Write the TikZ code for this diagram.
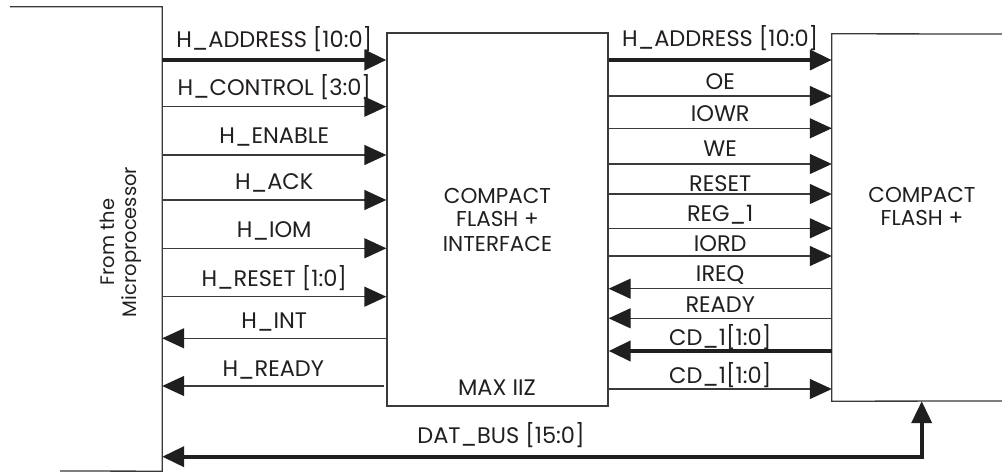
\documentclass[tikz,border=0pt]{standalone}
\usepackage{fontspec}
\setmainfont{Poppins}
\usetikzlibrary{arrows.meta,positioning}
\definecolor{ln}{HTML}{3A3A3A}
\definecolor{tx}{HTML}{231F20}
\tikzset{
  lbl/.style={text=tx,font=\fontsize{22.5}{26}\selectfont,inner sep=0pt,anchor=base},
  sig/.style={draw=ln,line width=1.3pt,-{Triangle[length=22pt 0,width=20pt 0,fill=black!88,color=black!88]}},
  bus/.style={sig,line width=4pt,draw=black!88},
  sigr/.style={draw=ln,line width=1.3pt,{Triangle[length=22pt 0,width=20pt 0,fill=black!88,color=black!88]}-},
  busr/.style={sigr,line width=4pt,draw=black!88},
  boxline/.style={draw=ln,line width=1.3pt},
  blk/.style={boxline,inner sep=0pt},
  blktext/.style={text=tx,font=\fontsize{21.5}{24}\selectfont,inner sep=0pt,anchor=base},
}
\begin{document}
\begin{tikzpicture}[x=1pt,y=-1pt]
\useasboundingbox[fill=white] (0,0) rectangle (1002,473);
% microprocessor (open box)
\node[inner sep=0pt,minimum width=152pt,minimum height=464pt] (mp) at (86,239) {};
\draw[boxline] (mp.north west) -- (mp.north east) -- (mp.south east) -- (60,471);
\node[rotate=90,text=tx,font=\fontsize{19.5}{22}\selectfont,align=center] (mptext) at (121,242) {From the\\Microprocessor};
% CPLD
\node[blk,minimum width=221pt,minimum height=373pt] (cpld) at (497.5,219.5) {};
\node[blktext] (cpld1) at (497.5,203.3) {COMPACT};
\node[blktext] (cpld2) at (497.5,227) {FLASH +};
\node[blktext] (cpld3) at (497.5,251.7) {INTERFACE};
\node[lbl] (maxiiz) at (497,395) {MAX IIZ};
% Compact flash card (open to the right)
\node[inner sep=0pt,minimum width=170pt,minimum height=367pt] (cf) at (917,217.5) {};
\draw[boxline] (1002,34) -- (cf.north west) -- (cf.south west) -- (1002,401);
\node[blktext] (cf1) at (922,202.5) {COMPACT};
\node[blktext] (cf2) at (922,226) {FLASH +};
% left side signals
\draw[bus]  (mp.east |- 0,60)    -- node[lbl,yshift=12pt] {H\_ADDRESS [10:0]} (cpld.west |- 0,60);
\draw[sig]  (mp.east |- 0,106.7) -- node[lbl,yshift=11.5pt] {H\_CONTROL [3:0]} (cpld.west |- 0,106.7);
\draw[sig]  (mp.east |- 0,155)   -- node[lbl,yshift=11pt] {H\_ENABLE} (cpld.west |- 0,155);
\draw[sig]  (mp.east |- 0,200)   -- node[lbl,yshift=10.7pt] {H\_ACK} (cpld.west |- 0,200);
\draw[sig]  (mp.east |- 0,248.3) -- node[lbl,yshift=11pt] {H\_IOM} (cpld.west |- 0,248.3);
\draw[sig]  (mp.east |- 0,296.7) -- node[lbl,yshift=10pt] {H\_RESET [1:0]} (cpld.west |- 0,296.7);
\draw[sigr] (mp.east |- 0,338.3) -- node[lbl,yshift=10pt] {H\_INT} (cpld.west |- 0,338.3);
\draw[sigr] (mp.east |- 0,386)   -- node[lbl,yshift=9.5pt] {H\_READY} ([xshift=-2pt]cpld.west |- 0,386);
% right side signals
\draw[bus]  (cpld.east |- 0,60)  -- node[lbl,yshift=13pt] {H\_ADDRESS [10:0]} (cf.west |- 0,60);
\draw[sig]  (cpld.east |- 0,96)  -- node[lbl,yshift=6pt] {OE} (cf.west |- 0,96);
\draw[sig]  (cpld.east |- 0,128.3) -- node[lbl,yshift=6.6pt] {IOWR} (cf.west |- 0,128.3);
\draw[sig]  (cpld.east |- 0,164) -- node[lbl,yshift=7.3pt] {WE} (cf.west |- 0,164);
\draw[sig]  (cpld.east |- 0,194) -- node[lbl,yshift=2.5pt] {RESET} (cf.west |- 0,194);
\draw[sig]  (cpld.east |- 0,228.3) -- node[lbl,yshift=6.6pt] {REG\_1} (cf.west |- 0,228.3);
\draw[sig]  (cpld.east |- 0,256) -- node[lbl,yshift=4.3pt] {IORD} (cf.west |- 0,256);
\draw[sigr] (cpld.east |- 0,288.7) -- node[lbl,yshift=7pt] {IREQ} (cf.west |- 0,288.7);
\draw[sigr] (cpld.east |- 0,318.3) -- node[lbl,yshift=5.6pt] {READY} (cf.west |- 0,318.3);
\draw[busr] (cpld.east |- 0,351) -- node[lbl,yshift=6pt] {CD\_1[1:0]} (cf.west |- 0,351);
\draw[sig]  (cpld.east |- 0,389) -- node[lbl,yshift=5.7pt] {CD\_1[1:0]} (cf.west |- 0,389);
% data bus
\coordinate (busc) at (921.7,456.7);
\draw[bus,{Triangle[length=22pt 0,width=20pt 0]}-{Triangle[length=22pt 0,width=20pt 0]}] (mp.east |- busc) -- (busc) -- (busc |- cf.south);
\node[lbl] (dbus) at (501,443.3) {DAT\_BUS [15:0]};
\end{tikzpicture}
\end{document}
